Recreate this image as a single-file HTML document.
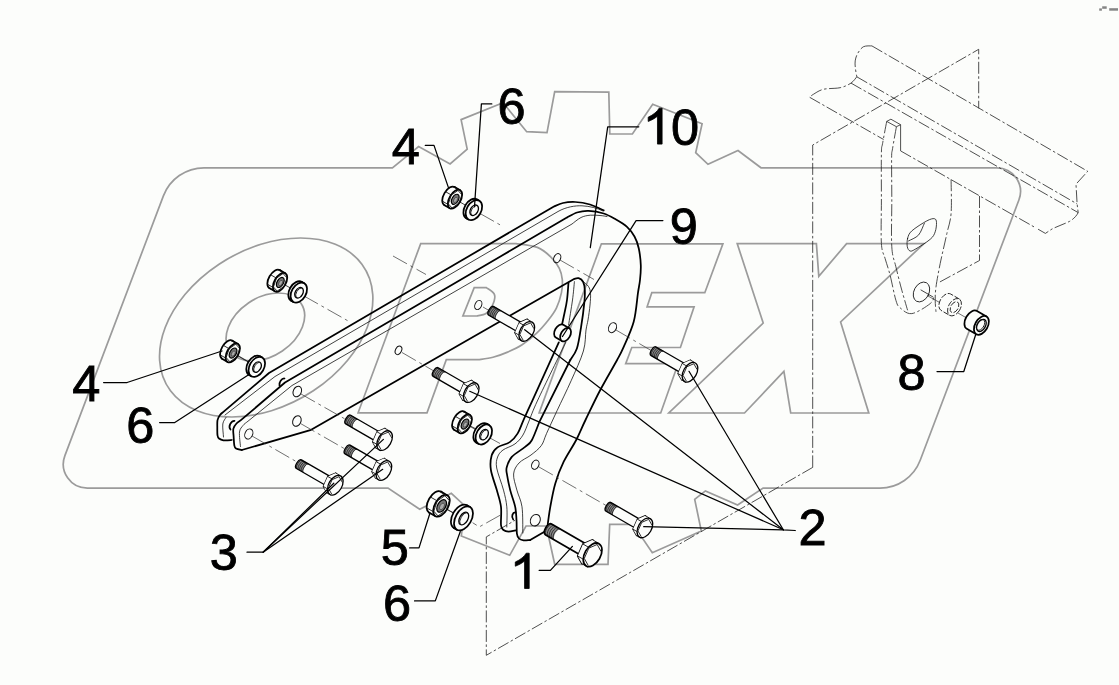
<!DOCTYPE html>
<html><head><meta charset="utf-8"><title>Diagram</title>
<style>
html,body{margin:0;padding:0;background:#fcfdfb;}
body{width:1119px;height:685px;overflow:hidden;font-family:"Liberation Sans",sans-serif;}
svg{display:block;}
text{font-family:"Liberation Sans",sans-serif;font-size:49px;fill:#000;}
.wm{fill:none;stroke:#9b9b9b;stroke-width:1.7;stroke-linejoin:miter;}
.ph{fill:none;stroke:#222;stroke-width:0.8;stroke-dasharray:12 2.5 2.5 2.5;}
.ax{fill:none;stroke:#333;stroke-width:0.7;stroke-dasharray:16 4 3 4;}
.tk{fill:none;stroke:#000;stroke-width:1.75;stroke-linejoin:round;stroke-linecap:round;}
.md{fill:none;stroke:#000;stroke-width:1.3;stroke-linejoin:round;stroke-linecap:round;}
.tn{fill:none;stroke:#111;stroke-width:0.8;stroke-linejoin:round;stroke-linecap:round;}
.ld{fill:none;stroke:#000;stroke-width:1.25;stroke-linecap:round;stroke-linejoin:round;}
.wf{fill:#fcfdfb;}
</style></head><body>
<svg width="1119" height="685" viewBox="0 0 1119 685">
<rect x="0" y="0" width="1119" height="685" fill="#fcfdfb"/>
<g class="wm">
<path d="M204,167.8 L392.4,167.8 L418.6,146.5 L450.1,163.9 L467.2,149.2 L461.1,119.6 L503.0,102.7 L526.7,131.7 L547.0,132.7 L554.7,91.7 L608.8,92.1 L609.8,134.0 L632.4,134.0 L652.7,104.2 L702.1,123.8 L695.7,152.7 L708.0,164.3 L738.0,150.5 L761.0,167.8 L996.7,167.8 A23.75,23.75 0 0 1 1018.9,200 L920.2,460.3 A43,43 0 0 1 880,488.1 L763.1,488.1 L737.6,505.0 L705.4,490.9 L694.7,499.3 L701.3,531.0 L652.3,552.7 L633.0,524.3 L609.7,524.3 L608.0,564.3 L554.7,564.3 L546.3,526.0 L526.0,526.0 L509.7,555.3 L461.3,536.0 L465.0,506.0 L451.3,493.3 L419.7,509.3 L388.0,488.1 L87.4,488.1 A24,24 0 0 1 64.9,455.6 L163.4,195.9 A43.4,43.4 0 0 1 204,167.8 Z"/>
<g transform="translate(0,328) skewX(-21) translate(0,-328)">
<ellipse cx="266" cy="327.5" rx="101" ry="89.5" vector-effect="non-scaling-stroke"/>
<ellipse cx="265" cy="327" rx="37" ry="34" vector-effect="non-scaling-stroke"/>
</g>
<path d="M420.7,243.6 L516,243.6  C519.6,244.2 531.6,245.2 537.4,247.4 C543.2,249.6 547.1,253.4 550.7,256.9 C554.4,260.4 557.4,264.5 559.3,268.3 C561.2,272.1 561.9,275.5 562.3,279.6 C562.6,283.7 562.4,288.1 561.4,292.9 C560.4,297.6 558.6,303.6 556.4,308.1 C554.2,312.6 551.7,315.8 548.4,320.0 C545.1,324.2 541.1,329.0 536.7,333.1 C532.3,337.2 527.0,341.6 522.1,344.8 C517.2,348.0 512.5,350.0 507.6,352.1 C502.8,354.2 497.9,355.9 493.0,357.2 C488.1,358.5 480.8,359.3 478.4,359.7 L446.3,359.7 L427,412.8 L358.1,412.8 Z"/>
<path d="M474.2,287.6 L486.3,287.6  C487.6,288.7 493.3,291.7 494.4,294.4 C495.5,297.1 494.5,300.6 493.1,303.8 C491.8,307.0 489.0,311.3 486.3,313.3 C483.6,315.3 478.5,315.6 476.9,316.0 L462.9,316 Z"/>
<path d="M601.4,243.8 L722.9,243.8 L704.8,292.7 L651.8,292.7 L647.1,306.8 L694.1,306.8 L680.4,347.5 L631.8,347.5 L625.7,363.7 L678.1,363.7 L660.7,413.0 L539.1,413.0Z"/>
<path d="M737.2,243.6 L816.4,243.6 L818.8,276.3 L846.6,243.6 L924.0,243.6 L840.6,322.0 L868.8,413.0 L790.7,413.0 L783.9,371.4 L744.5,413.0 L668.8,413.0 L763.2,323.0Z"/>
</g>
<g class="ph">
<path d="M871.9,45.9 C870.5,46.0 865.9,45.5 863.5,46.7 C861.1,48.0 859.1,51.0 857.7,53.4 C856.3,55.8 855.6,58.3 855.2,60.9 C854.8,63.5 855.2,66.3 855.5,69.0 C855.8,71.7 856.6,75.5 856.8,76.8"/>
<path d="M856.8,76.8 C855.8,77.8 853.8,81.3 851.0,83.1 C848.2,84.9 844.7,86.7 840.1,87.7 C835.5,88.7 827.9,88.2 823.4,89.3 C818.9,90.4 815.7,93.0 813.4,94.3 C811.1,95.6 810.3,96.8 809.7,97.3"/>
<path d="M871.9,45.9 L1087.7,171.3 L1076,184.2 L1077.1,203.9 L1078.2,212.6 C1076,217 1072,220 1069.5,221.4 C1063,224.5 1057,226.5 1052,229 L1045.4,233.4 L1036,228"/>
<path d="M856.8,76.8 L1077.1,203.9"/>
<path d="M851,83.1 L1078.2,212.6"/>
<path d="M809.7,97.3 L883.6,139.5"/>
<path d="M900.6,150.9 L1036,228"/>
<path d="M812.7,467.4 L812.7,145 L978.7,49.3 L978.7,108.3"/>
<path d="M979.5,196 L979.5,260.5 L938.5,282.7"/>
<path d="M812.7,467.4 L486.3,655.3 L486.3,536.9 L515.2,520.2"/>
<path d="M886.7,121.4 L890.9,119.2 L900.6,124.7 L896.4,126.7 Z" stroke-dasharray="none"/>
<path d="M900.6,124.7 L900.6,150.9" stroke-dasharray="none"/>
<path d="M886.7,121.4 C886.0,125.1 883.5,138.1 882.6,143.4 C881.7,148.7 881.6,144.0 881.4,153.4 C881.2,162.8 881.4,185.0 881.4,200.0 C881.4,215.0 880.8,233.7 881.4,243.4 C882.0,253.2 883.6,253.2 885.1,258.5 C886.6,263.8 888.3,268.2 890.1,275.2 C891.9,282.2 894.2,294.9 895.9,300.3 C897.6,305.7 897.5,305.6 900.1,307.8 C902.8,310.0 906.8,314.3 911.8,313.6 C916.8,312.9 926.4,306.7 930.2,303.6 C934.0,300.6 933.7,296.7 934.4,295.3"/>
<path d="M896.4,126.7 C895.8,130.3 893.4,143.1 892.6,148.4 C891.8,153.7 891.7,149.9 891.6,158.5 C891.5,167.1 891.8,185.3 891.8,200.0 C891.8,214.7 891.1,235.7 891.8,246.8 C892.5,257.9 894.2,259.6 895.9,266.8 C897.6,274.0 899.8,282.9 901.8,290.2 C903.8,297.4 906.6,306.9 907.6,310.3"/>
<path d="M951.1,179.4 C951.1,185.1 951.8,204.4 951.1,213.4 C950.4,222.4 948.7,225.1 946.9,233.4 C945.1,241.8 942.0,254.6 940.2,263.5 C938.4,272.4 936.8,280.8 936.0,286.9 C935.2,293.0 935.2,296.1 935.2,300.3 C935.2,304.5 935.9,310.1 936.0,312.0"/>
</g>
<g class="tn">
<path d="M907.6,238.4 C908.4,235.8 908.6,233.8 911.8,230.9 C915.0,228.0 923.0,222.9 926.8,220.9 C930.6,218.9 932.8,218.4 934.4,218.7 C936.0,219.0 936.4,220.4 936.5,222.6 C936.6,224.8 936.2,229.0 935.2,231.8 C934.2,234.6 933.6,236.4 930.2,239.3 C926.9,242.2 918.5,247.4 915.1,249.3 C911.8,251.2 911.4,251.4 910.1,251.0 C908.8,250.6 907.7,248.9 907.3,246.8 C906.9,244.7 906.9,241.1 907.6,238.4ZZ"/>
<path d="M908.5,240.9 C910.2,239.9 915.9,238.0 918.5,235.1 C921.1,232.2 923.3,225.3 924.3,223.4"/>
<ellipse cx="921.5" cy="292" rx="7.5" ry="10.5" transform="rotate(28 921.5 292)"/>
<path d="M921,290 L933,297"/>
</g>
<g class="tk">
<path d="M241.8,450.0 C240.8,449.8 237.2,449.3 236.0,448.5 C234.8,447.7 234.7,447.4 234.3,445.3 C233.9,443.2 233.8,438.8 233.6,436.0 C233.4,433.2 232.9,430.7 233.4,428.6 C233.9,426.5 235.2,424.9 236.5,423.5 C237.8,422.1 240.2,420.8 240.9,420.2 L285,382.5 L566.9,217.6  C568.6,216.8 573.4,213.6 577.0,212.5 C580.6,211.4 584.1,210.7 588.6,210.9 C593.1,211.1 599.1,212.1 603.7,213.5 C608.3,214.9 612.1,217.3 616.0,219.5 C619.9,221.7 623.9,224.0 627.0,226.8 C630.1,229.6 632.5,232.9 634.5,236.5 C636.5,240.1 637.8,243.7 638.8,248.5 C639.8,253.3 640.6,259.9 640.8,265.2 C641.0,270.4 640.5,275.3 640.0,280.0 C639.5,284.7 638.9,286.4 637.9,293.4 C636.9,300.4 636.1,312.9 633.7,321.8 C631.3,330.7 626.5,340.5 623.7,346.9 C620.9,353.3 621.1,352.7 617.1,360.0 C613.1,367.3 605.3,380.5 600.0,390.5 C594.7,400.5 589.5,411.8 585.5,420.0 C581.5,428.2 579.8,433.1 576.2,440.0 C572.6,446.9 567.2,454.5 563.7,461.7 C560.2,468.9 557.5,475.9 555.3,483.4 C553.1,490.9 551.7,499.0 550.3,506.8 C548.9,514.6 547.5,526.3 547.0,530.2"/>
<path d="M241.8,450 L310.3,430.2 L573.6,279.2  C574.4,279.0 577.0,277.7 578.6,278.2 C580.2,278.7 582.2,280.0 583.2,282.0 C584.2,284.0 584.6,286.7 584.8,290.0 C585.0,293.3 585.0,295.7 584.4,301.8 C583.8,307.9 582.4,319.0 581.1,326.8 C579.9,334.6 578.7,343.1 576.9,348.6 C575.1,354.1 571.4,358.1 570.3,360.0"/>
<path d="M570.3,360 L539.4,421.8  C538.1,424.9 534.2,436.0 531.8,440.2 C529.4,444.4 528.4,444.1 525.1,446.9 C521.8,449.7 514.9,453.5 511.8,456.9 C508.8,460.2 507.6,464.2 506.8,467.0 C506.0,469.8 506.2,469.5 506.8,473.4 C507.4,477.2 508.8,484.5 510.2,490.1 C511.6,495.7 514.2,501.8 515.2,506.8 C516.2,511.8 516.2,515.5 516.5,520.0 C516.8,524.5 516.5,530.5 516.9,533.6 C517.3,536.7 517.9,537.4 519.0,538.5 C520.1,539.6 521.7,540.0 523.6,540.3 C525.5,540.5 529.1,540.0 530.2,540.0"/>
<path d="M530.2,540 L547,530.2"/>
<path d="M231.8,440.0 C230.4,440.1 225.5,440.6 223.4,440.3 C221.3,440.1 220.0,439.3 219.0,438.5 C218.0,437.7 217.8,437.1 217.5,435.3 C217.2,433.6 217.3,430.5 217.3,428.0 C217.3,425.5 217.1,422.4 217.5,420.2 C217.9,418.0 219.0,416.4 220.0,415.0 C221.0,413.6 222.8,412.4 223.4,411.9 L269,373 L553.5,206.7  C555.1,206.1 559.4,203.8 563.0,203.0 C566.6,202.2 570.8,201.8 575.3,202.0 C579.8,202.2 585.3,203.1 590.0,204.5 C594.7,205.9 601.4,209.4 603.7,210.4"/>
<path d="M568.5,282.6 C568.2,285.5 567.7,294.9 567.0,300.0 C566.3,305.1 565.4,308.8 564.5,313.0 C563.6,317.2 562.3,323.2 561.9,325.2"/>
<path d="M558.8,342.3 L532.6,400.1  C531.1,403.3 526.3,413.8 523.8,419.3 C521.3,424.9 520.0,429.6 517.7,433.4 C515.4,437.2 513.2,439.8 509.8,442.1 C506.4,444.4 500.5,445.2 497.5,447.4 C494.5,449.6 492.8,451.5 491.7,455.3 C490.6,459.1 490.0,464.2 490.9,470.0 C491.8,475.8 495.1,484.0 496.8,490.1 C498.5,496.2 500.3,500.9 501.0,506.8 C501.7,512.6 500.6,521.3 501.0,525.2 C501.4,529.1 502.2,528.9 503.5,530.0 C504.8,531.1 506.4,531.6 508.5,531.6 C510.6,531.6 514.8,530.5 516.0,530.3"/>
<path d="M279.5,385.5 A3.6,5 25 0 1 284.5,378.5" /><path d="M230.5,429.5 A3.6,5 25 0 1 234.5,420.8"/><path d="M513.2,519.5 A3,4 0 0 1 515.5,512.5"/>
</g>
<g class="tn">
<path d="M240.5,446.5 C240.3,444.1 239.1,435.5 239.5,432.0 C239.9,428.5 241.8,427.2 243.0,425.5 C244.2,423.8 246.3,422.6 247.0,422.0 L292,385.5 L572,224  C573.5,222.9 578.0,219.0 581.0,217.5 C584.0,216.0 587.1,215.5 590.3,215.2 C593.5,214.9 597.2,215.3 600.0,215.5 C602.8,215.7 605.8,216.3 607.0,216.5"/>
<path d="M225,415 L275,376.5 L558,211.5 C566,207 575,205.5 582,205.8 C590,206.2 597,208 603,211"/>
<path d="M223.5,437.0 C223.4,434.8 222.4,427.2 222.8,424.0 C223.2,420.8 225.5,418.6 226.0,417.5"/>
<path d="M583.0,281.5 C583.9,282.3 587.2,284.5 588.5,286.5 C589.8,288.5 590.2,290.3 590.5,293.4 C590.8,296.5 590.4,300.6 590.0,305.0 C589.6,309.4 588.7,315.8 588.0,320.0 C587.3,324.2 586.8,324.8 586.0,330.0 C585.2,335.2 585.9,342.5 583.4,351.0 C580.9,359.5 575.5,370.9 571.1,380.8 C566.7,390.7 561.2,401.8 557.1,410.6 C553.0,419.4 549.2,427.6 546.6,433.4 C544.0,439.2 543.9,442.0 541.3,445.6 C538.7,449.2 534.7,452.1 531.0,455.0 C527.3,457.9 521.9,459.8 519.0,463.0 C516.1,466.2 514.0,469.5 513.6,474.0 C513.2,478.5 515.5,484.6 516.9,490.1 C518.3,495.6 521.0,499.7 522.0,506.8 C523.0,514.0 522.7,528.6 522.8,533.0"/>
<path d="M574.4,281.7 C574.1,284.8 573.5,292.8 572.5,300.0 C571.5,307.2 569.2,320.8 568.6,325.0"/>
<path d="M565.8,342.3 C561.1,351.9 543.9,386.9 537.8,400.0 C531.7,413.1 531.5,415.1 529.0,421.0 C526.5,426.9 525.2,431.3 522.9,435.1 C520.6,438.9 518.3,441.4 515.0,443.9 C511.7,446.4 505.9,447.8 503.0,450.0 C500.1,452.2 498.7,454.0 497.6,457.0 C496.6,460.0 495.7,462.5 496.7,468.0 C497.7,473.5 501.8,483.6 503.5,490.1 C505.2,496.6 506.2,500.7 506.8,506.8 C507.4,513.0 506.8,523.6 506.8,527.0"/>
</g>
<g class="tn" style="stroke-width:1">
<ellipse cx="297.3" cy="391.5" rx="4.0" ry="5.5" transform="rotate(25 297.3 391.5)"/>
<ellipse cx="296.9" cy="421.0" rx="4.0" ry="5.5" transform="rotate(25 296.9 421.0)"/>
<ellipse cx="248.8" cy="434.0" rx="3.8" ry="5.3" transform="rotate(25 248.8 434.0)"/>
<ellipse cx="557.2" cy="258.2" rx="3.3" ry="4.8" transform="rotate(25 557.2 258.2)"/>
<ellipse cx="612.5" cy="327.7" rx="3.8" ry="5.2" transform="rotate(25 612.5 327.7)"/>
<ellipse cx="535.3" cy="464.7" rx="3.5" ry="4.8" transform="rotate(25 535.3 464.7)"/>
<ellipse cx="535.3" cy="520.2" rx="4.8" ry="6.0" transform="rotate(25 535.3 520.2)"/>
<ellipse cx="478.3" cy="305.0" rx="3.3" ry="4.8" transform="rotate(25 478.3 305.0)"/>
<ellipse cx="398.5" cy="350.3" rx="3.0" ry="4.5" transform="rotate(25 398.5 350.3)"/>
</g>
<path class="ax" d="M480.0,213.5 L503.0,226.5"/>
<path class="ax" d="M393.0,256.0 L426.0,274.5"/>
<path class="ax" d="M304.0,296.0 L350.0,322.0"/>
<path class="ax" d="M560.0,260.0 L594.0,279.5"/>
<path class="ax" d="M483.0,307.0 L489.0,310.5"/>
<path class="ax" d="M301.0,394.0 L345.0,419.0"/>
<path class="ax" d="M300.5,423.5 L345.0,449.0"/>
<path class="ax" d="M252.0,436.0 L297.0,462.0"/>
<path class="ax" d="M402.0,352.5 L433.0,370.5"/>
<path class="ax" d="M616.0,330.0 L652.0,351.0"/>
<path class="ax" d="M539.0,467.0 L607.0,506.0"/>
<path class="ax" d="M464.0,423.0 L478.0,431.0"/>
<path class="ax" d="M490.0,438.0 L500.0,443.5"/>
<path class="ax" d="M238.0,355.5 L249.0,362.0"/>
<path class="ax" d="M446.0,509.0 L456.0,514.5"/>
<path class="ax" d="M500.2,515.2 L479.3,526.9 L472.6,522.7"/>
<path class="ax" d="M928.0,296.0 L945.0,305.5"/>
<path class="ax" d="M958.0,313.0 L970.0,320.0"/>
<path class="tn" d="M452.2,197.6 L472.8,209.4"/>
<path class="tn" d="M277.3,280.7 L297.7,292.0"/>
<path class="tn" d="M230.0,351.3 L255.7,366.3"/>
<path class="tn" d="M462.3,422.0 L484.0,433.0"/>
<path class="tn" d="M438.0,504.3 L462.3,517.7"/>
<g transform="translate(384.6,440.6) rotate(30)"><path class="wf" d="M-4.5,-5.0 L-42.0,-5.0 A2.5,5.0 0 0 0 -42.0,5.0 L-4.5,5.0 Z"/><path d="M-33.0,-5.0 L-42.0,-5.0 A2.5,5.0 0 0 0 -42.0,5.0 L-33.0,5.0 A2.5,5.0 0 0 1 -33.0,-5.0 Z" fill="#8a8a8a" stroke="none"/><path d="M-40.8,-5.0 A2.5,5.0 0 0 0 -40.8,5.0" fill="none" stroke="#222" stroke-width="0.8"/><path d="M-39.0,-5.0 A2.5,5.0 0 0 0 -39.0,5.0" fill="none" stroke="#222" stroke-width="0.8"/><path d="M-37.2,-5.0 A2.5,5.0 0 0 0 -37.2,5.0" fill="none" stroke="#222" stroke-width="0.8"/><path d="M-35.4,-5.0 A2.5,5.0 0 0 0 -35.4,5.0" fill="none" stroke="#222" stroke-width="0.8"/><path d="M-33.6,-5.0 A2.5,5.0 0 0 0 -33.6,5.0" fill="none" stroke="#222" stroke-width="0.8"/><path class="md" d="M-4.5,-5.0 L-42.0,-5.0 A2.5,5.0 0 0 0 -42.0,5.0 L-4.5,5.0"/><path class="wf" d="M1.9,3.8 L-3.3,10.8 L-9.7,7.1 L-10.9,-3.8 L-5.7,-10.8 L0.7,-7.1Z"/><path class="md" d="M1.9,3.8 L-3.3,10.8 L-9.7,7.1 L-10.9,-3.8 L-5.7,-10.8 L0.7,-7.1Z"/><path class="wf" d="M1.9,3.8 L-3.3,10.8 L1.2,10.8 L6.4,3.8Z"/><path class="wf" d="M-3.3,10.8 L-9.7,7.1 L-5.2,7.1 L1.2,10.8Z"/><path class="wf" d="M-9.7,7.1 L-10.9,-3.8 L-6.4,-3.8 L-5.2,7.1Z"/><path class="wf" d="M-10.9,-3.8 L-5.7,-10.8 L-1.2,-10.8 L-6.4,-3.8Z"/><path class="wf" d="M-5.7,-10.8 L0.7,-7.1 L5.2,-7.1 L-1.2,-10.8Z"/><path class="wf" d="M0.7,-7.1 L1.9,3.8 L6.4,3.8 L5.2,-7.1Z"/><path class="tn" d="M-3.3,10.8 L1.2,10.8"/><path class="tn" d="M-9.7,7.1 L-5.2,7.1"/><path class="tn" d="M-10.9,-3.8 L-6.4,-3.8"/><path class="tn" d="M-5.7,-10.8 L-1.2,-10.8"/><ellipse class="wf" cx="0" cy="0" rx="6.6" ry="10.7"/><ellipse class="md" cx="0" cy="0" rx="6.6" ry="10.7"/><path class="tn" d="M1.0,9.3 L-4.5,6.1 L-5.5,-3.2 L-1.0,-9.3 L4.5,-6.1"/></g>
<g transform="translate(383.9,470.5) rotate(30)"><path class="wf" d="M-4.5,-5.0 L-42.0,-5.0 A2.5,5.0 0 0 0 -42.0,5.0 L-4.5,5.0 Z"/><path d="M-33.0,-5.0 L-42.0,-5.0 A2.5,5.0 0 0 0 -42.0,5.0 L-33.0,5.0 A2.5,5.0 0 0 1 -33.0,-5.0 Z" fill="#8a8a8a" stroke="none"/><path d="M-40.8,-5.0 A2.5,5.0 0 0 0 -40.8,5.0" fill="none" stroke="#222" stroke-width="0.8"/><path d="M-39.0,-5.0 A2.5,5.0 0 0 0 -39.0,5.0" fill="none" stroke="#222" stroke-width="0.8"/><path d="M-37.2,-5.0 A2.5,5.0 0 0 0 -37.2,5.0" fill="none" stroke="#222" stroke-width="0.8"/><path d="M-35.4,-5.0 A2.5,5.0 0 0 0 -35.4,5.0" fill="none" stroke="#222" stroke-width="0.8"/><path d="M-33.6,-5.0 A2.5,5.0 0 0 0 -33.6,5.0" fill="none" stroke="#222" stroke-width="0.8"/><path class="md" d="M-4.5,-5.0 L-42.0,-5.0 A2.5,5.0 0 0 0 -42.0,5.0 L-4.5,5.0"/><path class="wf" d="M1.9,3.8 L-3.3,10.8 L-9.7,7.1 L-10.9,-3.8 L-5.7,-10.8 L0.7,-7.1Z"/><path class="md" d="M1.9,3.8 L-3.3,10.8 L-9.7,7.1 L-10.9,-3.8 L-5.7,-10.8 L0.7,-7.1Z"/><path class="wf" d="M1.9,3.8 L-3.3,10.8 L1.2,10.8 L6.4,3.8Z"/><path class="wf" d="M-3.3,10.8 L-9.7,7.1 L-5.2,7.1 L1.2,10.8Z"/><path class="wf" d="M-9.7,7.1 L-10.9,-3.8 L-6.4,-3.8 L-5.2,7.1Z"/><path class="wf" d="M-10.9,-3.8 L-5.7,-10.8 L-1.2,-10.8 L-6.4,-3.8Z"/><path class="wf" d="M-5.7,-10.8 L0.7,-7.1 L5.2,-7.1 L-1.2,-10.8Z"/><path class="wf" d="M0.7,-7.1 L1.9,3.8 L6.4,3.8 L5.2,-7.1Z"/><path class="tn" d="M-3.3,10.8 L1.2,10.8"/><path class="tn" d="M-9.7,7.1 L-5.2,7.1"/><path class="tn" d="M-10.9,-3.8 L-6.4,-3.8"/><path class="tn" d="M-5.7,-10.8 L-1.2,-10.8"/><ellipse class="wf" cx="0" cy="0" rx="6.6" ry="10.7"/><ellipse class="md" cx="0" cy="0" rx="6.6" ry="10.7"/><path class="tn" d="M1.0,9.3 L-4.5,6.1 L-5.5,-3.2 L-1.0,-9.3 L4.5,-6.1"/></g>
<g transform="translate(335.3,485.2) rotate(30)"><path class="wf" d="M-4.5,-5.0 L-42.0,-5.0 A2.5,5.0 0 0 0 -42.0,5.0 L-4.5,5.0 Z"/><path d="M-33.0,-5.0 L-42.0,-5.0 A2.5,5.0 0 0 0 -42.0,5.0 L-33.0,5.0 A2.5,5.0 0 0 1 -33.0,-5.0 Z" fill="#8a8a8a" stroke="none"/><path d="M-40.8,-5.0 A2.5,5.0 0 0 0 -40.8,5.0" fill="none" stroke="#222" stroke-width="0.8"/><path d="M-39.0,-5.0 A2.5,5.0 0 0 0 -39.0,5.0" fill="none" stroke="#222" stroke-width="0.8"/><path d="M-37.2,-5.0 A2.5,5.0 0 0 0 -37.2,5.0" fill="none" stroke="#222" stroke-width="0.8"/><path d="M-35.4,-5.0 A2.5,5.0 0 0 0 -35.4,5.0" fill="none" stroke="#222" stroke-width="0.8"/><path d="M-33.6,-5.0 A2.5,5.0 0 0 0 -33.6,5.0" fill="none" stroke="#222" stroke-width="0.8"/><path class="md" d="M-4.5,-5.0 L-42.0,-5.0 A2.5,5.0 0 0 0 -42.0,5.0 L-4.5,5.0"/><path class="wf" d="M1.9,3.8 L-3.3,10.8 L-9.7,7.1 L-10.9,-3.8 L-5.7,-10.8 L0.7,-7.1Z"/><path class="md" d="M1.9,3.8 L-3.3,10.8 L-9.7,7.1 L-10.9,-3.8 L-5.7,-10.8 L0.7,-7.1Z"/><path class="wf" d="M1.9,3.8 L-3.3,10.8 L1.2,10.8 L6.4,3.8Z"/><path class="wf" d="M-3.3,10.8 L-9.7,7.1 L-5.2,7.1 L1.2,10.8Z"/><path class="wf" d="M-9.7,7.1 L-10.9,-3.8 L-6.4,-3.8 L-5.2,7.1Z"/><path class="wf" d="M-10.9,-3.8 L-5.7,-10.8 L-1.2,-10.8 L-6.4,-3.8Z"/><path class="wf" d="M-5.7,-10.8 L0.7,-7.1 L5.2,-7.1 L-1.2,-10.8Z"/><path class="wf" d="M0.7,-7.1 L1.9,3.8 L6.4,3.8 L5.2,-7.1Z"/><path class="tn" d="M-3.3,10.8 L1.2,10.8"/><path class="tn" d="M-9.7,7.1 L-5.2,7.1"/><path class="tn" d="M-10.9,-3.8 L-6.4,-3.8"/><path class="tn" d="M-5.7,-10.8 L-1.2,-10.8"/><ellipse class="wf" cx="0" cy="0" rx="6.6" ry="10.7"/><ellipse class="md" cx="0" cy="0" rx="6.6" ry="10.7"/><path class="tn" d="M1.0,9.3 L-4.5,6.1 L-5.5,-3.2 L-1.0,-9.3 L4.5,-6.1"/></g>
<g transform="translate(526.8,331.4) rotate(30)"><path class="wf" d="M-4.5,-5.0 L-41.0,-5.0 A2.5,5.0 0 0 0 -41.0,5.0 L-4.5,5.0 Z"/><path d="M-32.0,-5.0 L-41.0,-5.0 A2.5,5.0 0 0 0 -41.0,5.0 L-32.0,5.0 A2.5,5.0 0 0 1 -32.0,-5.0 Z" fill="#8a8a8a" stroke="none"/><path d="M-39.8,-5.0 A2.5,5.0 0 0 0 -39.8,5.0" fill="none" stroke="#222" stroke-width="0.8"/><path d="M-38.0,-5.0 A2.5,5.0 0 0 0 -38.0,5.0" fill="none" stroke="#222" stroke-width="0.8"/><path d="M-36.2,-5.0 A2.5,5.0 0 0 0 -36.2,5.0" fill="none" stroke="#222" stroke-width="0.8"/><path d="M-34.4,-5.0 A2.5,5.0 0 0 0 -34.4,5.0" fill="none" stroke="#222" stroke-width="0.8"/><path d="M-32.6,-5.0 A2.5,5.0 0 0 0 -32.6,5.0" fill="none" stroke="#222" stroke-width="0.8"/><path class="md" d="M-4.5,-5.0 L-41.0,-5.0 A2.5,5.0 0 0 0 -41.0,5.0 L-4.5,5.0"/><path class="wf" d="M1.9,3.8 L-3.3,10.8 L-9.7,7.1 L-10.9,-3.8 L-5.7,-10.8 L0.7,-7.1Z"/><path class="md" d="M1.9,3.8 L-3.3,10.8 L-9.7,7.1 L-10.9,-3.8 L-5.7,-10.8 L0.7,-7.1Z"/><path class="wf" d="M1.9,3.8 L-3.3,10.8 L1.2,10.8 L6.4,3.8Z"/><path class="wf" d="M-3.3,10.8 L-9.7,7.1 L-5.2,7.1 L1.2,10.8Z"/><path class="wf" d="M-9.7,7.1 L-10.9,-3.8 L-6.4,-3.8 L-5.2,7.1Z"/><path class="wf" d="M-10.9,-3.8 L-5.7,-10.8 L-1.2,-10.8 L-6.4,-3.8Z"/><path class="wf" d="M-5.7,-10.8 L0.7,-7.1 L5.2,-7.1 L-1.2,-10.8Z"/><path class="wf" d="M0.7,-7.1 L1.9,3.8 L6.4,3.8 L5.2,-7.1Z"/><path class="tn" d="M-3.3,10.8 L1.2,10.8"/><path class="tn" d="M-9.7,7.1 L-5.2,7.1"/><path class="tn" d="M-10.9,-3.8 L-6.4,-3.8"/><path class="tn" d="M-5.7,-10.8 L-1.2,-10.8"/><ellipse class="wf" cx="0" cy="0" rx="6.6" ry="10.7"/><ellipse class="md" cx="0" cy="0" rx="6.6" ry="10.7"/><path class="tn" d="M1.0,9.3 L-4.5,6.1 L-5.5,-3.2 L-1.0,-9.3 L4.5,-6.1"/></g>
<g transform="translate(690.0,372.3) rotate(30)"><path class="wf" d="M-4.5,-5.0 L-42.0,-5.0 A2.5,5.0 0 0 0 -42.0,5.0 L-4.5,5.0 Z"/><path d="M-33.0,-5.0 L-42.0,-5.0 A2.5,5.0 0 0 0 -42.0,5.0 L-33.0,5.0 A2.5,5.0 0 0 1 -33.0,-5.0 Z" fill="#8a8a8a" stroke="none"/><path d="M-40.8,-5.0 A2.5,5.0 0 0 0 -40.8,5.0" fill="none" stroke="#222" stroke-width="0.8"/><path d="M-39.0,-5.0 A2.5,5.0 0 0 0 -39.0,5.0" fill="none" stroke="#222" stroke-width="0.8"/><path d="M-37.2,-5.0 A2.5,5.0 0 0 0 -37.2,5.0" fill="none" stroke="#222" stroke-width="0.8"/><path d="M-35.4,-5.0 A2.5,5.0 0 0 0 -35.4,5.0" fill="none" stroke="#222" stroke-width="0.8"/><path d="M-33.6,-5.0 A2.5,5.0 0 0 0 -33.6,5.0" fill="none" stroke="#222" stroke-width="0.8"/><path class="md" d="M-4.5,-5.0 L-42.0,-5.0 A2.5,5.0 0 0 0 -42.0,5.0 L-4.5,5.0"/><path class="wf" d="M1.9,3.8 L-3.3,10.8 L-9.7,7.1 L-10.9,-3.8 L-5.7,-10.8 L0.7,-7.1Z"/><path class="md" d="M1.9,3.8 L-3.3,10.8 L-9.7,7.1 L-10.9,-3.8 L-5.7,-10.8 L0.7,-7.1Z"/><path class="wf" d="M1.9,3.8 L-3.3,10.8 L1.2,10.8 L6.4,3.8Z"/><path class="wf" d="M-3.3,10.8 L-9.7,7.1 L-5.2,7.1 L1.2,10.8Z"/><path class="wf" d="M-9.7,7.1 L-10.9,-3.8 L-6.4,-3.8 L-5.2,7.1Z"/><path class="wf" d="M-10.9,-3.8 L-5.7,-10.8 L-1.2,-10.8 L-6.4,-3.8Z"/><path class="wf" d="M-5.7,-10.8 L0.7,-7.1 L5.2,-7.1 L-1.2,-10.8Z"/><path class="wf" d="M0.7,-7.1 L1.9,3.8 L6.4,3.8 L5.2,-7.1Z"/><path class="tn" d="M-3.3,10.8 L1.2,10.8"/><path class="tn" d="M-9.7,7.1 L-5.2,7.1"/><path class="tn" d="M-10.9,-3.8 L-6.4,-3.8"/><path class="tn" d="M-5.7,-10.8 L-1.2,-10.8"/><ellipse class="wf" cx="0" cy="0" rx="6.6" ry="10.7"/><ellipse class="md" cx="0" cy="0" rx="6.6" ry="10.7"/><path class="tn" d="M1.0,9.3 L-4.5,6.1 L-5.5,-3.2 L-1.0,-9.3 L4.5,-6.1"/></g>
<g transform="translate(471.2,392.6) rotate(30)"><path class="wf" d="M-4.5,-5.0 L-41.0,-5.0 A2.5,5.0 0 0 0 -41.0,5.0 L-4.5,5.0 Z"/><path d="M-32.0,-5.0 L-41.0,-5.0 A2.5,5.0 0 0 0 -41.0,5.0 L-32.0,5.0 A2.5,5.0 0 0 1 -32.0,-5.0 Z" fill="#8a8a8a" stroke="none"/><path d="M-39.8,-5.0 A2.5,5.0 0 0 0 -39.8,5.0" fill="none" stroke="#222" stroke-width="0.8"/><path d="M-38.0,-5.0 A2.5,5.0 0 0 0 -38.0,5.0" fill="none" stroke="#222" stroke-width="0.8"/><path d="M-36.2,-5.0 A2.5,5.0 0 0 0 -36.2,5.0" fill="none" stroke="#222" stroke-width="0.8"/><path d="M-34.4,-5.0 A2.5,5.0 0 0 0 -34.4,5.0" fill="none" stroke="#222" stroke-width="0.8"/><path d="M-32.6,-5.0 A2.5,5.0 0 0 0 -32.6,5.0" fill="none" stroke="#222" stroke-width="0.8"/><path class="md" d="M-4.5,-5.0 L-41.0,-5.0 A2.5,5.0 0 0 0 -41.0,5.0 L-4.5,5.0"/><path class="wf" d="M1.9,3.8 L-3.3,10.8 L-9.7,7.1 L-10.9,-3.8 L-5.7,-10.8 L0.7,-7.1Z"/><path class="md" d="M1.9,3.8 L-3.3,10.8 L-9.7,7.1 L-10.9,-3.8 L-5.7,-10.8 L0.7,-7.1Z"/><path class="wf" d="M1.9,3.8 L-3.3,10.8 L1.2,10.8 L6.4,3.8Z"/><path class="wf" d="M-3.3,10.8 L-9.7,7.1 L-5.2,7.1 L1.2,10.8Z"/><path class="wf" d="M-9.7,7.1 L-10.9,-3.8 L-6.4,-3.8 L-5.2,7.1Z"/><path class="wf" d="M-10.9,-3.8 L-5.7,-10.8 L-1.2,-10.8 L-6.4,-3.8Z"/><path class="wf" d="M-5.7,-10.8 L0.7,-7.1 L5.2,-7.1 L-1.2,-10.8Z"/><path class="wf" d="M0.7,-7.1 L1.9,3.8 L6.4,3.8 L5.2,-7.1Z"/><path class="tn" d="M-3.3,10.8 L1.2,10.8"/><path class="tn" d="M-9.7,7.1 L-5.2,7.1"/><path class="tn" d="M-10.9,-3.8 L-6.4,-3.8"/><path class="tn" d="M-5.7,-10.8 L-1.2,-10.8"/><ellipse class="wf" cx="0" cy="0" rx="6.6" ry="10.7"/><ellipse class="md" cx="0" cy="0" rx="6.6" ry="10.7"/><path class="tn" d="M1.0,9.3 L-4.5,6.1 L-5.5,-3.2 L-1.0,-9.3 L4.5,-6.1"/></g>
<g transform="translate(644.9,527.9) rotate(30)"><path class="wf" d="M-4.5,-5.0 L-42.0,-5.0 A2.5,5.0 0 0 0 -42.0,5.0 L-4.5,5.0 Z"/><path d="M-33.0,-5.0 L-42.0,-5.0 A2.5,5.0 0 0 0 -42.0,5.0 L-33.0,5.0 A2.5,5.0 0 0 1 -33.0,-5.0 Z" fill="#8a8a8a" stroke="none"/><path d="M-40.8,-5.0 A2.5,5.0 0 0 0 -40.8,5.0" fill="none" stroke="#222" stroke-width="0.8"/><path d="M-39.0,-5.0 A2.5,5.0 0 0 0 -39.0,5.0" fill="none" stroke="#222" stroke-width="0.8"/><path d="M-37.2,-5.0 A2.5,5.0 0 0 0 -37.2,5.0" fill="none" stroke="#222" stroke-width="0.8"/><path d="M-35.4,-5.0 A2.5,5.0 0 0 0 -35.4,5.0" fill="none" stroke="#222" stroke-width="0.8"/><path d="M-33.6,-5.0 A2.5,5.0 0 0 0 -33.6,5.0" fill="none" stroke="#222" stroke-width="0.8"/><path class="md" d="M-4.5,-5.0 L-42.0,-5.0 A2.5,5.0 0 0 0 -42.0,5.0 L-4.5,5.0"/><path class="wf" d="M1.9,3.8 L-3.3,10.8 L-9.7,7.1 L-10.9,-3.8 L-5.7,-10.8 L0.7,-7.1Z"/><path class="md" d="M1.9,3.8 L-3.3,10.8 L-9.7,7.1 L-10.9,-3.8 L-5.7,-10.8 L0.7,-7.1Z"/><path class="wf" d="M1.9,3.8 L-3.3,10.8 L1.2,10.8 L6.4,3.8Z"/><path class="wf" d="M-3.3,10.8 L-9.7,7.1 L-5.2,7.1 L1.2,10.8Z"/><path class="wf" d="M-9.7,7.1 L-10.9,-3.8 L-6.4,-3.8 L-5.2,7.1Z"/><path class="wf" d="M-10.9,-3.8 L-5.7,-10.8 L-1.2,-10.8 L-6.4,-3.8Z"/><path class="wf" d="M-5.7,-10.8 L0.7,-7.1 L5.2,-7.1 L-1.2,-10.8Z"/><path class="wf" d="M0.7,-7.1 L1.9,3.8 L6.4,3.8 L5.2,-7.1Z"/><path class="tn" d="M-3.3,10.8 L1.2,10.8"/><path class="tn" d="M-9.7,7.1 L-5.2,7.1"/><path class="tn" d="M-10.9,-3.8 L-6.4,-3.8"/><path class="tn" d="M-5.7,-10.8 L-1.2,-10.8"/><ellipse class="wf" cx="0" cy="0" rx="6.6" ry="10.7"/><ellipse class="md" cx="0" cy="0" rx="6.6" ry="10.7"/><path class="tn" d="M1.0,9.3 L-4.5,6.1 L-5.5,-3.2 L-1.0,-9.3 L4.5,-6.1"/></g>
<g transform="translate(592.6,554.8) rotate(30)"><path class="wf" d="M-6.0,-6.2 L-51.0,-6.2 A3.1,6.2 0 0 0 -51.0,6.2 L-6.0,6.2 Z"/><path d="M-40.0,-6.2 L-51.0,-6.2 A3.1,6.2 0 0 0 -51.0,6.2 L-40.0,6.2 A3.1,6.2 0 0 1 -40.0,-6.2 Z" fill="#8a8a8a" stroke="none"/><path d="M-49.8,-6.2 A3.1,6.2 0 0 0 -49.8,6.2" fill="none" stroke="#222" stroke-width="0.8"/><path d="M-47.6,-6.2 A3.1,6.2 0 0 0 -47.6,6.2" fill="none" stroke="#222" stroke-width="0.8"/><path d="M-45.4,-6.2 A3.1,6.2 0 0 0 -45.4,6.2" fill="none" stroke="#222" stroke-width="0.8"/><path d="M-43.2,-6.2 A3.1,6.2 0 0 0 -43.2,6.2" fill="none" stroke="#222" stroke-width="0.8"/><path d="M-41.0,-6.2 A3.1,6.2 0 0 0 -41.0,6.2" fill="none" stroke="#222" stroke-width="0.8"/><path class="tk" d="M-6.0,-6.2 L-51.0,-6.2 A3.1,6.2 0 0 0 -51.0,6.2 L-6.0,6.2"/><path class="wf" d="M1.7,4.5 L-4.6,13.0 L-12.2,8.5 L-13.7,-4.5 L-7.4,-13.0 L0.2,-8.5Z"/><path class="tk" d="M1.7,4.5 L-4.6,13.0 L-12.2,8.5 L-13.7,-4.5 L-7.4,-13.0 L0.2,-8.5Z"/><path class="wf" d="M1.7,4.5 L-4.6,13.0 L1.4,13.0 L7.7,4.5Z"/><path class="wf" d="M-4.6,13.0 L-12.2,8.5 L-6.2,8.5 L1.4,13.0Z"/><path class="wf" d="M-12.2,8.5 L-13.7,-4.5 L-7.7,-4.5 L-6.2,8.5Z"/><path class="wf" d="M-13.7,-4.5 L-7.4,-13.0 L-1.4,-13.0 L-7.7,-4.5Z"/><path class="wf" d="M-7.4,-13.0 L0.2,-8.5 L6.2,-8.5 L-1.4,-13.0Z"/><path class="wf" d="M0.2,-8.5 L1.7,4.5 L7.7,4.5 L6.2,-8.5Z"/><path class="tn" d="M-4.6,13.0 L1.4,13.0"/><path class="tn" d="M-12.2,8.5 L-6.2,8.5"/><path class="tn" d="M-13.7,-4.5 L-7.7,-4.5"/><path class="tn" d="M-7.4,-13.0 L-1.4,-13.0"/><ellipse class="wf" cx="0" cy="0" rx="7.9" ry="12.8"/><ellipse class="tk" cx="0" cy="0" rx="7.9" ry="12.8"/><path class="tn" d="M1.2,11.2 L-5.4,7.3 L-6.6,-3.9 L-1.2,-11.2 L5.4,-7.3"/></g>
<g transform="translate(452.2,197.6) rotate(30)"><ellipse class="wf" cx="-3.2" cy="0" rx="5.7" ry="10.4"/><ellipse class="tk" cx="-3.2" cy="0" rx="5.7" ry="10.4"/><path class="wf" d="M-3.2,-10.4 L3.2,-10.4 L3.2,10.4 L-3.2,10.4 Z"/><path class="tk" d="M-3.2,-10.4 L3.2,-10.4 M-3.2,10.4 L3.2,10.4"/><ellipse class="wf" cx="3.2" cy="0" rx="5.7" ry="10.4"/><ellipse class="tk" cx="3.2" cy="0" rx="5.7" ry="10.4"/><path class="tn" d="M8.5,1.7 L5.1,9.1 L-0.2,7.4 L-2.0,-1.7 L1.4,-9.1 L6.7,-7.4Z"/><path class="tn" d="M-6.9,8.0 L-0.4,8.0"/><path class="tn" d="M-8.9,-1.8 L-2.4,-1.8"/><path class="tn" d="M-5.2,-9.8 L1.3,-9.8"/><ellipse cx="3.5" cy="0" rx="3.2" ry="5.5" fill="#777" stroke="#000" stroke-width="1.2"/><ellipse cx="4.0" cy="0.3" rx="1.6" ry="2.9" fill="#aaa" stroke="#333" stroke-width="0.6"/></g>
<g transform="translate(277.3,280.7) rotate(30)"><ellipse class="wf" cx="-3.2" cy="0" rx="5.7" ry="10.4"/><ellipse class="tk" cx="-3.2" cy="0" rx="5.7" ry="10.4"/><path class="wf" d="M-3.2,-10.4 L3.2,-10.4 L3.2,10.4 L-3.2,10.4 Z"/><path class="tk" d="M-3.2,-10.4 L3.2,-10.4 M-3.2,10.4 L3.2,10.4"/><ellipse class="wf" cx="3.2" cy="0" rx="5.7" ry="10.4"/><ellipse class="tk" cx="3.2" cy="0" rx="5.7" ry="10.4"/><path class="tn" d="M8.5,1.7 L5.1,9.1 L-0.2,7.4 L-2.0,-1.7 L1.4,-9.1 L6.7,-7.4Z"/><path class="tn" d="M-6.9,8.0 L-0.4,8.0"/><path class="tn" d="M-8.9,-1.8 L-2.4,-1.8"/><path class="tn" d="M-5.2,-9.8 L1.3,-9.8"/><ellipse cx="3.5" cy="0" rx="3.2" ry="5.5" fill="#777" stroke="#000" stroke-width="1.2"/><ellipse cx="4.0" cy="0.3" rx="1.6" ry="2.9" fill="#aaa" stroke="#333" stroke-width="0.6"/></g>
<g transform="translate(230.0,351.3) rotate(30)"><ellipse class="wf" cx="-3.2" cy="0" rx="5.7" ry="10.4"/><ellipse class="tk" cx="-3.2" cy="0" rx="5.7" ry="10.4"/><path class="wf" d="M-3.2,-10.4 L3.2,-10.4 L3.2,10.4 L-3.2,10.4 Z"/><path class="tk" d="M-3.2,-10.4 L3.2,-10.4 M-3.2,10.4 L3.2,10.4"/><ellipse class="wf" cx="3.2" cy="0" rx="5.7" ry="10.4"/><ellipse class="tk" cx="3.2" cy="0" rx="5.7" ry="10.4"/><path class="tn" d="M8.5,1.7 L5.1,9.1 L-0.2,7.4 L-2.0,-1.7 L1.4,-9.1 L6.7,-7.4Z"/><path class="tn" d="M-6.9,8.0 L-0.4,8.0"/><path class="tn" d="M-8.9,-1.8 L-2.4,-1.8"/><path class="tn" d="M-5.2,-9.8 L1.3,-9.8"/><ellipse cx="3.5" cy="0" rx="3.2" ry="5.5" fill="#777" stroke="#000" stroke-width="1.2"/><ellipse cx="4.0" cy="0.3" rx="1.6" ry="2.9" fill="#aaa" stroke="#333" stroke-width="0.6"/></g>
<g transform="translate(462.0,422.3) rotate(30)"><ellipse class="wf" cx="-3.2" cy="0" rx="5.7" ry="10.4"/><ellipse class="tk" cx="-3.2" cy="0" rx="5.7" ry="10.4"/><path class="wf" d="M-3.2,-10.4 L3.2,-10.4 L3.2,10.4 L-3.2,10.4 Z"/><path class="tk" d="M-3.2,-10.4 L3.2,-10.4 M-3.2,10.4 L3.2,10.4"/><ellipse class="wf" cx="3.2" cy="0" rx="5.7" ry="10.4"/><ellipse class="tk" cx="3.2" cy="0" rx="5.7" ry="10.4"/><path class="tn" d="M8.5,1.7 L5.1,9.1 L-0.2,7.4 L-2.0,-1.7 L1.4,-9.1 L6.7,-7.4Z"/><path class="tn" d="M-6.9,8.0 L-0.4,8.0"/><path class="tn" d="M-8.9,-1.8 L-2.4,-1.8"/><path class="tn" d="M-5.2,-9.8 L1.3,-9.8"/><ellipse cx="3.5" cy="0" rx="3.2" ry="5.5" fill="#777" stroke="#000" stroke-width="1.2"/><ellipse cx="4.0" cy="0.3" rx="1.6" ry="2.9" fill="#aaa" stroke="#333" stroke-width="0.6"/></g>
<g transform="translate(438.2,503.9) rotate(30)"><ellipse class="wf" cx="-3.8" cy="0" rx="6.6" ry="12.0"/><ellipse class="tk" cx="-3.8" cy="0" rx="6.6" ry="12.0"/><path class="wf" d="M-3.8,-12.0 L3.8,-12.0 L3.8,12.0 L-3.8,12.0 Z"/><path class="tk" d="M-3.8,-12.0 L3.8,-12.0 M-3.8,12.0 L3.8,12.0"/><ellipse class="wf" cx="3.8" cy="0" rx="6.6" ry="12.0"/><ellipse class="tk" cx="3.8" cy="0" rx="6.6" ry="12.0"/><path class="tn" d="M9.8,1.9 L5.8,10.5 L-0.2,8.5 L-2.3,-1.9 L1.7,-10.5 L7.7,-8.5Z"/><path class="tn" d="M-8.0,9.2 L-0.5,9.2"/><path class="tn" d="M-10.2,-2.1 L-2.7,-2.1"/><path class="tn" d="M-6.0,-11.3 L1.5,-11.3"/><ellipse cx="4.0" cy="0" rx="4.0" ry="6.9" fill="#777" stroke="#000" stroke-width="1.2"/><ellipse cx="4.5" cy="0.3" rx="2.0" ry="3.6" fill="#aaa" stroke="#333" stroke-width="0.6"/></g>
<g transform="translate(473.9,210.1) rotate(30)"><ellipse class="wf" cx="-2.6" cy="0" rx="7.2" ry="10.8"/><ellipse class="tk" cx="-2.6" cy="0" rx="7.2" ry="10.8"/><path class="wf" d="M-2.6,-10.8 L0,-10.8 L0,10.8 L-2.6,10.8 Z"/><path class="tk" d="M-2.6,-10.8 L0,-10.8 M0,10.8 L-2.6,10.8"/><ellipse class="wf" cx="0" cy="0" rx="7.2" ry="10.8"/><ellipse class="tk" cx="0" cy="0" rx="7.2" ry="10.8"/><ellipse class="md" cx="0.3" cy="0" rx="3.8" ry="5.6"/><path class="tn" d="M-0.2,-5.3 A3.0,5.6 0 0 0 -0.2,5.3"/></g>
<g transform="translate(298.8,292.6) rotate(30)"><ellipse class="wf" cx="-2.6" cy="0" rx="7.2" ry="10.8"/><ellipse class="tk" cx="-2.6" cy="0" rx="7.2" ry="10.8"/><path class="wf" d="M-2.6,-10.8 L0,-10.8 L0,10.8 L-2.6,10.8 Z"/><path class="tk" d="M-2.6,-10.8 L0,-10.8 M0,10.8 L-2.6,10.8"/><ellipse class="wf" cx="0" cy="0" rx="7.2" ry="10.8"/><ellipse class="tk" cx="0" cy="0" rx="7.2" ry="10.8"/><ellipse class="md" cx="0.3" cy="0" rx="3.8" ry="5.6"/><path class="tn" d="M-0.2,-5.3 A3.0,5.6 0 0 0 -0.2,5.3"/></g>
<g transform="translate(256.8,366.9) rotate(30)"><ellipse class="wf" cx="-2.6" cy="0" rx="7.2" ry="10.8"/><ellipse class="tk" cx="-2.6" cy="0" rx="7.2" ry="10.8"/><path class="wf" d="M-2.6,-10.8 L0,-10.8 L0,10.8 L-2.6,10.8 Z"/><path class="tk" d="M-2.6,-10.8 L0,-10.8 M0,10.8 L-2.6,10.8"/><ellipse class="wf" cx="0" cy="0" rx="7.2" ry="10.8"/><ellipse class="tk" cx="0" cy="0" rx="7.2" ry="10.8"/><ellipse class="md" cx="0.3" cy="0" rx="3.8" ry="5.6"/><path class="tn" d="M-0.2,-5.3 A3.0,5.6 0 0 0 -0.2,5.3"/></g>
<g transform="translate(483.8,434.5) rotate(30)"><ellipse class="wf" cx="-2.6" cy="0" rx="7.2" ry="10.8"/><ellipse class="tk" cx="-2.6" cy="0" rx="7.2" ry="10.8"/><path class="wf" d="M-2.6,-10.8 L0,-10.8 L0,10.8 L-2.6,10.8 Z"/><path class="tk" d="M-2.6,-10.8 L0,-10.8 M0,10.8 L-2.6,10.8"/><ellipse class="wf" cx="0" cy="0" rx="7.2" ry="10.8"/><ellipse class="tk" cx="0" cy="0" rx="7.2" ry="10.8"/><ellipse class="md" cx="0.3" cy="0" rx="3.8" ry="5.6"/><path class="tn" d="M-0.2,-5.3 A3.0,5.6 0 0 0 -0.2,5.3"/></g>
<g transform="translate(463.5,518.4) rotate(30)"><ellipse class="wf" cx="-3.6" cy="0" rx="7.9" ry="13.1"/><ellipse class="tk" cx="-3.6" cy="0" rx="7.9" ry="13.1"/><path class="wf" d="M-3.6,-13.1 L0,-13.1 L0,13.1 L-3.6,13.1 Z"/><path class="tk" d="M-3.6,-13.1 L0,-13.1 M0,13.1 L-3.6,13.1"/><ellipse class="wf" cx="0" cy="0" rx="7.9" ry="13.1"/><ellipse class="tk" cx="0" cy="0" rx="7.9" ry="13.1"/><ellipse class="md" cx="0.3" cy="0" rx="4.1" ry="6.9"/><path class="tn" d="M-0.2,-6.6 A3.3,6.9 0 0 0 -0.2,6.6"/></g>
<g transform="translate(954.5,307.2) rotate(30)"><path class="wf" d="M0,-9.5 L-10.0,-9.5 A5.9,9.5 0 0 0 -10.0,9.5 L0,9.5 Z"/><path class="tn" stroke-dasharray="5 2.5" d="M0,-9.5 L-10.0,-9.5 A5.9,9.5 0 0 0 -10.0,9.5 L0,9.5"/><ellipse class="wf" cx="0" cy="0" rx="5.9" ry="9.5"/><ellipse class="tn" stroke-dasharray="5 2.5" cx="0" cy="0" rx="5.9" ry="9.5"/><ellipse class="tn" stroke-dasharray="5 2.5" cx="0" cy="0" rx="3.7" ry="6.0"/></g>
<g transform="translate(981.4,325.4) rotate(30)"><path class="wf" d="M0,-10.2 L-11.0,-10.2 A6.3,10.2 0 0 0 -11.0,10.2 L0,10.2 Z"/><path class="tk" d="M0,-10.2 L-11.0,-10.2 A6.3,10.2 0 0 0 -11.0,10.2 L0,10.2"/><ellipse class="wf" cx="0" cy="0" rx="6.3" ry="10.2"/><ellipse class="tk" cx="0" cy="0" rx="6.3" ry="10.2"/><ellipse class="md" cx="0" cy="0" rx="4.1" ry="6.6"/><ellipse class="tn" cx="-1" cy="0" rx="3.5" ry="5.9"/></g>
<g transform="translate(565.6,334.6) rotate(30)"><path class="wf" d="M0,-7.4 L-7.0,-7.4 A4.6,7.4 0 0 0 -7.0,7.4 L0,7.4 Z"/><path class="tk" d="M0,-7.4 L-7.0,-7.4 A4.6,7.4 0 0 0 -7.0,7.4 L0,7.4"/><ellipse class="wf" cx="0" cy="0" rx="4.6" ry="7.4"/><ellipse class="tk" cx="0" cy="0" rx="4.6" ry="7.4"/><ellipse class="md" cx="0" cy="0" rx="0.0" ry="0.0"/><ellipse class="tn" cx="-1" cy="0" rx="0.0" ry="0.0"/></g>
<g class="ld">
<path d="M425.3,145.4 L434.0,145.4 L448.7,188.4"/>
<path d="M491.8,103.9 L481.4,103.9 L474.5,206.8"/>
<path d="M638.8,126.8 L607.7,126.8 L590.3,247.7"/>
<path d="M662.9,220.6 L636.1,220.6 L562.5,336.5"/>
<path d="M103.6,382.5 L127.1,382.5 L222.0,351.0"/>
<path d="M159.6,422.5 L174.8,422.5 L249.0,374.5"/>
<path d="M247.0,552.2 L263.1,552.2 L383.4,439.4"/>
<path d="M263.1,552.2 L333.8,483.2"/>
<path d="M263.1,552.2 L382.7,469.3"/>
<path d="M409.6,547.9 L419.0,547.9 L430.0,513.0"/>
<path d="M414.5,600.9 L435.3,600.9 L460.3,531.5"/>
<path d="M539.1,570.3 L550.4,570.3 L572.4,546.4"/>
<path d="M795.3,530.5 L783.3,529.8 L689.0,371.3"/>
<path d="M783.3,529.8 L524.7,329.7"/>
<path d="M783.3,529.8 L469.7,391.3"/>
<path d="M783.3,529.8 L643.7,526.7"/>
<path d="M937.0,371.5 L963.8,371.5 L975.5,335.2"/>
</g>
<text x="391.8" y="164.2" style="font-size:50.5px;stroke:#000;stroke-width:0.85">4</text>
<text x="497.4" y="124.3" style="font-size:50.5px;stroke:#000;stroke-width:0.85">6</text>
<path d="M662.10,144.10 L657.47,144.10 L657.47,116.13 Q655.79,117.64 653.08,119.15 Q650.36,120.66 648.20,121.42 L648.20,117.17 Q652.09,115.44 655.00,112.98 Q657.90,110.52 659.11,108.20 L662.10,108.20 Z" fill="#000" stroke="#000" stroke-width="0.8"/>
<text x="671.0" y="145.0" style="font-size:50.5px;stroke:#000;stroke-width:0.85">0</text>
<text x="669.8" y="244.2" style="font-size:50.5px;stroke:#000;stroke-width:0.85">9</text>
<text x="72.2" y="400.5" style="font-size:50.5px;stroke:#000;stroke-width:0.85">4</text>
<text x="126.2" y="442.5" style="font-size:50.5px;stroke:#000;stroke-width:0.85">6</text>
<text x="209.8" y="570.4" style="font-size:50.5px;stroke:#000;stroke-width:0.85">3</text>
<text x="380.7" y="565.0" style="font-size:50.5px;stroke:#000;stroke-width:0.85">5</text>
<text x="383.0" y="621.4" style="font-size:50.5px;stroke:#000;stroke-width:0.85">6</text>
<path d="M529.20,588.50 L524.57,588.50 L524.57,560.99 Q522.89,562.48 520.18,563.97 Q517.46,565.45 515.30,566.20 L515.30,562.02 Q519.19,560.32 522.10,557.90 Q525.00,555.48 526.21,553.20 L529.20,553.20 Z" fill="#000" stroke="#000" stroke-width="0.8"/>
<text x="798.4" y="544.9" style="font-size:50.5px;stroke:#000;stroke-width:0.85">2</text>
<text x="897.6" y="389.8" style="font-size:50.5px;stroke:#000;stroke-width:0.85">8</text>
<g fill="#858585"><rect x="1099.2" y="8.4" width="2.7" height="2.3"/><rect x="1102.2" y="6.3" width="4.5" height="2.5"/><rect x="1109.2" y="8.2" width="8.8" height="2.5"/></g>
</svg>
</body></html>
